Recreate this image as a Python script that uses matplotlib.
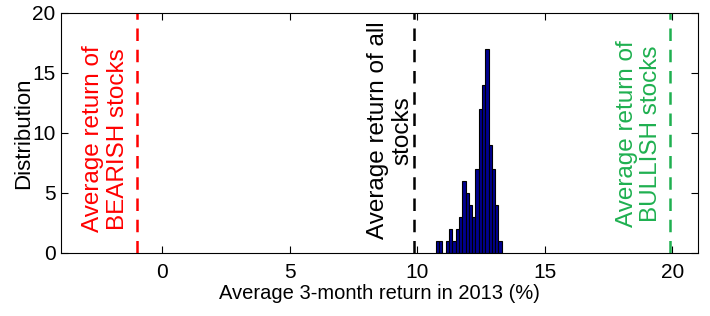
import numpy as np
import matplotlib
matplotlib.use("Agg")
import matplotlib.pyplot as plt

plt.rcParams['font.family'] = ['Liberation Sans', 'DejaVu Sans']

# histogram of average 3-month returns
bin_start = 10.73
bin_width = 0.129
counts = [1, 1, 0, 1, 2, 1, 2, 3, 6, 5, 4, 3, 7, 12, 14, 17, 9, 7, 4, 1]

# reference lines
bearish_avg = -1.0
all_avg = 9.88
bullish_avg = 19.92

labels = ["Average return of\nBEARISH stocks",
          "Average return of all\nstocks",
          "Average return of\nBULLISH stocks"]
colors = ["#ff0000", "#000000", "#1fb050"]

fig = plt.figure(figsize=(7.10, 3.16), dpi=100)
ax = fig.add_axes([0.0863, 0.1994, 0.8968, 0.7604])

lefts = bin_start + bin_width * np.arange(len(counts))
ax.bar(lefts, counts, width=bin_width, align='edge',
       color=(0, 0, 0.56), edgecolor='black', linewidth=0.8)

for xv, c in zip([bearish_avg, all_avg, bullish_avg], colors):
    ax.axvline(xv, color=c, linestyle=(0, (5, 3.5)), linewidth=1.8)

txt = dict(rotation=90, fontsize=17.5, ha='center', va='center',
           multialignment='center', linespacing=1.15)
ax.text(-2.22, 9.5, labels[0], color=colors[0], **txt)
ax.text(8.95, 10.2, labels[1], color=colors[1], **txt)
ax.text(18.68, 9.9, labels[2], color=colors[2], **txt)

ax.set_xlim(-3.95, 21.0)
ax.set_ylim(0, 20)
ax.set_xticks([0, 5, 10, 15, 20])
ax.set_yticks([0, 5, 10, 15, 20])
ax.tick_params(direction='in', top=True, right=True, length=5, labelsize=15)
ax.tick_params(axis='x', pad=7)
ax.tick_params(axis='y', pad=4)
ax.set_xlabel('Average 3-month return in 2013 (%)', fontsize=14.5, labelpad=2)
ax.set_ylabel('Distribution', fontsize=16, labelpad=-1)

plt.savefig('out.png', dpi=100)
plt.close()
